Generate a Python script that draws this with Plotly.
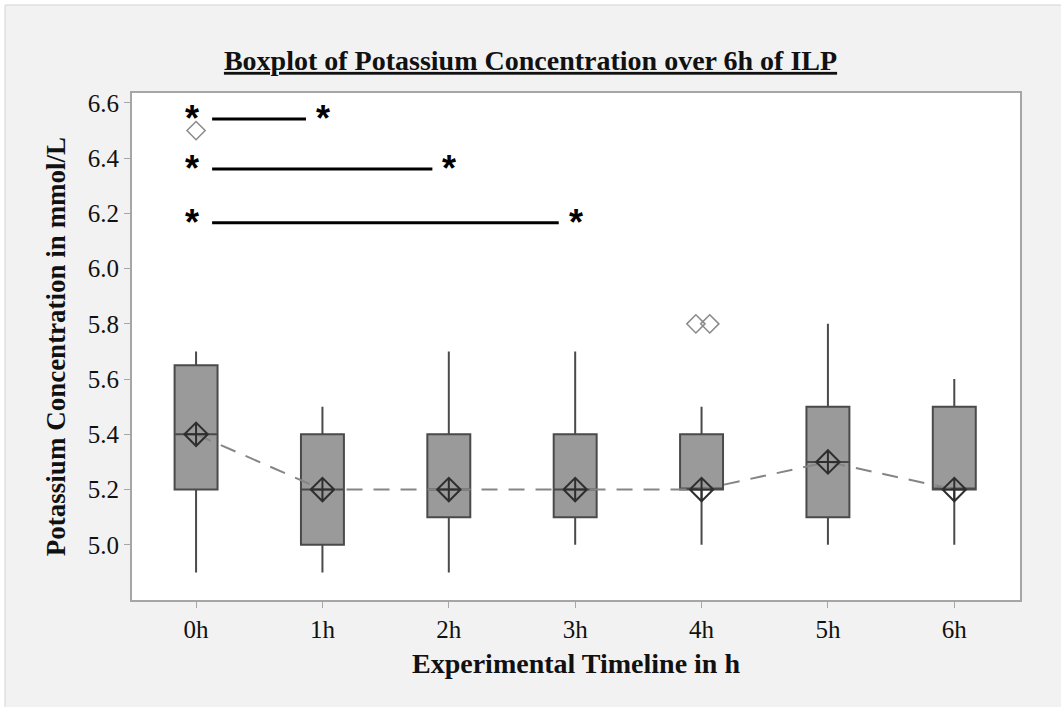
import plotly.graph_objects as go

categories = ["0h", "1h", "2h", "3h", "4h", "5h", "6h"]
lower_whisker = [4.9, 4.9, 4.9, 5.0, 5.0, 5.0, 5.0]
q1_values = [5.2, 5.0, 5.1, 5.1, 5.2, 5.1, 5.2]
median_values = [5.4, 5.2, 5.2, 5.2, 5.2, 5.3, 5.2]
q3_values = [5.65, 5.4, 5.4, 5.4, 5.4, 5.5, 5.5]
upper_whisker = [5.7, 5.5, 5.7, 5.7, 5.5, 5.8, 5.6]
mean_values = [5.4, 5.2, 5.2, 5.2, 5.2, 5.3, 5.2]

outlier_group = [0, 4, 4]
outlier_values = [6.5, 5.8, 5.8]
outlier_jitter = [0.0, -0.045, 0.065]

# significance brackets: 0h vs 1h, 0h vs 2h, 0h vs 3h
sig_from = [0, 0, 0]
sig_to = [1, 2, 3]
sig_level = [6.542, 6.361, 6.166]

y_ticks = [5.0, 5.2, 5.4, 5.6, 5.8, 6.0, 6.2, 6.4, 6.6]

xs = list(range(len(categories)))
serif = "Liberation Serif, Times New Roman, serif"

fig = go.Figure()

fig.add_trace(go.Box(
    x=xs, q1=q1_values, median=median_values, q3=q3_values,
    lowerfence=lower_whisker, upperfence=upper_whisker,
    boxpoints=False, width=0.34, whiskerwidth=0,
    fillcolor="#9a9a9a", line=dict(color="#4a4a4a", width=2),
    showlegend=False, hoverinfo="skip",
))

fig.add_trace(go.Scatter(
    x=xs, y=mean_values, mode="lines",
    line=dict(color="#858585", width=2, dash="16px,11px"),
    showlegend=False, hoverinfo="skip",
))
fig.add_trace(go.Scatter(
    x=xs, y=mean_values, mode="markers",
    marker=dict(symbol="diamond-cross-open", size=18, color="#2e2e2e",
                line=dict(width=2, color="#2e2e2e")),
    showlegend=False, hoverinfo="skip",
))

fig.add_trace(go.Scatter(
    x=[g + j for g, j in zip(outlier_group, outlier_jitter)], y=outlier_values,
    mode="markers",
    marker=dict(symbol="diamond-open", size=14, color="#8a8a8a",
                line=dict(width=1.5, color="#8a8a8a")),
    showlegend=False, hoverinfo="skip",
))

shapes = [
    dict(type="rect", xref="paper", yref="paper",
         x0=-0.143, x1=1.2, y0=-0.3, y1=1.1736,
         fillcolor="#f2f2f2", line=dict(color="#d4d4d4", width=1), layer="below"),
    dict(type="rect", xref="paper", yref="paper",
         x0=0, x1=1, y0=0, y1=1,
         fillcolor="white", line=dict(width=0), layer="below"),
]
annotations = []
star_font = dict(size=36, color="black", family="Liberation Sans, Arial")
for a, b, lev in zip(sig_from, sig_to, sig_level):
    shapes.append(dict(type="line", xref="x", yref="y",
                       x0=a + 0.127, x1=b - 0.13, y0=lev, y1=lev,
                       line=dict(color="black", width=3)))
    annotations.append(dict(x=a - 0.03, y=lev, xref="x", yref="y", text="<b>*</b>",
                            showarrow=False, font=star_font, yanchor="middle"))
    annotations.append(dict(x=b + 0.005, y=lev, xref="x", yref="y", text="<b>*</b>",
                            showarrow=False, font=star_font, yanchor="middle"))

fig.update_layout(
    width=1061, height=707,
    margin=dict(l=132, r=41, t=93, b=107),
    paper_bgcolor="white", plot_bgcolor="white",
    title=dict(text="<b><u>Boxplot of Potassium Concentration over 6h of ILP</u></b>",
               x=0.5, xanchor="center", y=0.915, yanchor="middle",
               font=dict(family=serif, size=28, color="#111")),
    shapes=shapes, annotations=annotations,
    xaxis=dict(range=[-0.507, 6.52], tickvals=xs, ticktext=categories,
               showgrid=False, zeroline=False, showline=True, mirror=True,
               linecolor="#a6a6a6", linewidth=2, ticks="outside", ticklen=6,
               tickcolor="#a6a6a6", tickfont=dict(family=serif, size=25, color="#111"),
               title=dict(text="<b>Experimental Timeline in h</b>", standoff=11,
                          font=dict(family=serif, size=28, color="#111"))),
    yaxis=dict(range=[4.8, 6.636], tickvals=y_ticks, ticktext=[f"{v:.1f}" for v in y_ticks],
               showgrid=False, zeroline=False, showline=True, mirror=True,
               linecolor="#a6a6a6", linewidth=2, ticks="outside", ticklen=6,
               tickcolor="#a6a6a6", tickfont=dict(family=serif, size=25, color="#111"),
               title=dict(text="<b>Potassium Concentration in mmol/L</b>", standoff=14,
                          font=dict(family=serif, size=27, color="#111"))),
)

fig.write_html("out.html", config={"displayModeBar": False},
               post_script="document.body.style.margin='0px';")
